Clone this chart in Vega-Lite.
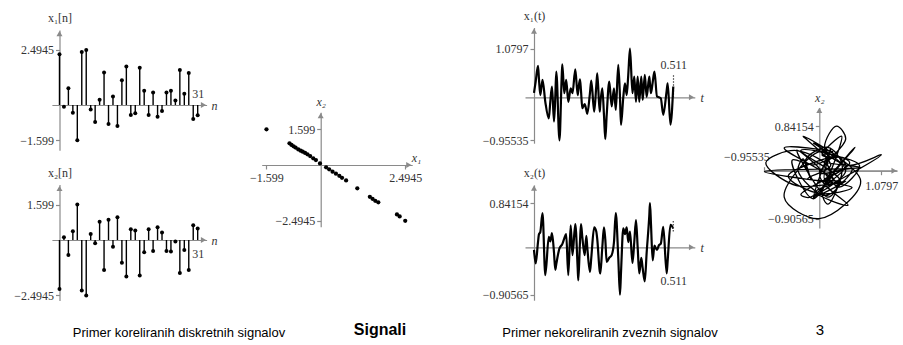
{
"$schema": "https://vega.github.io/schema/vega-lite/v6.json",
"width": 903, "height": 345, "autosize": "none", "padding": 0, "background": "white",
"config": {"view": {"stroke": null},
 "axis": {"grid": false, "domainColor": "#8a8a8a", "domainWidth": 1.2, "tickColor": "#8a8a8a", "tickWidth": 1.2, "tickSize": 4,
  "labelColor": "#333333", "labelFont": "Liberation Serif", "labelFontSize": 12, "labelFlush": false, "labelOverlap": false,
  "titleFont": "Liberation Serif", "titleFontSize": 12, "titleFontWeight": "normal", "titleColor": "#333333", "titleAngle": 0,
  "titleAlign": "center", "titleBaseline": "middle", "format": ".5~g"}},
"datasets": {
 "one": [{"k": 1}],
 "dt": [
  {"n":0,"x1":2.30,"x2":-2.21},{"n":1,"x1":-0.08,"x2":0.12},{"n":2,"x1":0.76,"x2":-0.67},{"n":3,"x1":-0.35,"x2":0.40},
  {"n":4,"x1":-1.599,"x2":1.599},{"n":5,"x1":2.40,"x2":-2.27},{"n":6,"x1":2.4945,"x2":-2.4945},{"n":7,"x1":-0.20,"x2":0.27},
  {"n":8,"x1":-0.77,"x2":-0.15},{"n":9,"x1":0.24,"x2":0.82},{"n":10,"x1":1.47,"x2":-1.35},{"n":11,"x1":-0.86,"x2":0.91},
  {"n":12,"x1":0.38,"x2":-0.30},{"n":13,"x1":-0.95,"x2":1.02},{"n":14,"x1":1.12,"x2":-1.02},{"n":15,"x1":1.74,"x2":-1.64},
  {"n":16,"x1":-0.45,"x2":0.49},{"n":17,"x1":-0.38,"x2":0.43},{"n":18,"x1":1.69,"x2":-1.60},{"n":19,"x1":0.65,"x2":-0.55},
  {"n":20,"x1":-0.45,"x2":0.48},{"n":21,"x1":0.57,"x2":-0.49},{"n":22,"x1":-0.53,"x2":0.57},{"n":23,"x1":-0.27,"x2":0.34},
  {"n":24,"x1":0.57,"x2":-0.49},{"n":25,"x1":0.64,"x2":-0.52},{"n":26,"x1":0.20,"x2":-0.07},{"n":27,"x1":1.59,"x2":-1.49},
  {"n":28,"x1":0.51,"x2":-0.45},{"n":29,"x1":1.45,"x2":-1.35},{"n":30,"x1":-0.64,"x2":0.67},{"n":31,"x1":-0.47,"x2":0.52}],
 "sc": [
  {"s1":-1.599,"s2":1.599},{"s1":-0.92,"s2":0.97},{"s1":-0.86,"s2":0.90},{"s1":-0.80,"s2":0.84},{"s1":-0.74,"s2":0.78},
  {"s1":-0.66,"s2":0.70},{"s1":-0.59,"s2":0.64},{"s1":-0.53,"s2":0.60},{"s1":-0.46,"s2":0.54},{"s1":-0.39,"s2":0.48},
  {"s1":-0.31,"s2":0.40},{"s1":-0.22,"s2":0.30},{"s1":-0.14,"s2":0.22},{"s1":-0.02,"s2":0.07},{"s1":0.16,"s2":-0.10},
  {"s1":0.25,"s2":-0.19},{"s1":0.35,"s2":-0.30},{"s1":0.45,"s2":-0.39},{"s1":0.55,"s2":-0.48},{"s1":0.63,"s2":-0.57},
  {"s1":0.75,"s2":-0.69},{"s1":1.08,"s2":-1.04},{"s1":1.45,"s2":-1.42},{"s1":1.53,"s2":-1.51},{"s1":1.61,"s2":-1.60},
  {"s1":1.70,"s2":-1.67},{"s1":2.25,"s2":-2.21},{"s1":2.33,"s2":-2.30},{"s1":2.4945,"s2":-2.4945}],
 "ct": [
  {"t":0,"x1":0.10,"x2":-0.05},{"t":0.0062,"x1":0.35,"x2":-0.31},{"t":0.0147,"x1":0.70,"x2":0.10},{"t":0.0183,"x1":0.40,"x2":0.25},
  {"t":0.0231,"x1":0.05,"x2":0.29},{"t":0.0312,"x1":0.39,"x2":0.65},{"t":0.0415,"x1":-0.10,"x2":-0.53},{"t":0.0543,"x1":-0.47,"x2":0.20},
  {"t":0.0598,"x1":-0.10,"x2":0.11},{"t":0.0660,"x1":0.24,"x2":0.27},{"t":0.0734,"x1":-0.54,"x2":-0.10},{"t":0.0781,"x1":0.00,"x2":-0.43},
  {"t":0.0818,"x1":0.57,"x2":-0.32},{"t":0.0935,"x1":-0.955,"x2":-0.02},{"t":0.1016,"x1":0.45,"x2":0.04},{"t":0.1038,"x1":0.73,"x2":0.06},
  {"t":0.1112,"x1":0.09,"x2":0.17},{"t":0.1181,"x1":0.39,"x2":0.25},{"t":0.1258,"x1":-0.10,"x2":-0.53},{"t":0.1346,"x1":0.20,"x2":0.42},
  {"t":0.1412,"x1":0.09,"x2":-0.15},{"t":0.1515,"x1":0.62,"x2":0.44},{"t":0.1603,"x1":0.05,"x2":-0.40},{"t":0.1625,"x1":0.15,"x2":-0.63},
  {"t":0.1687,"x1":0.40,"x2":0.10},{"t":0.1724,"x1":0.15,"x2":0.44},{"t":0.1772,"x1":-0.24,"x2":0.20},{"t":0.1860,"x1":-0.15,"x2":-0.15},
  {"t":0.1919,"x1":-0.28,"x2":0.22},{"t":0.1955,"x1":-0.37,"x2":0.00},{"t":0.2054,"x1":0.10,"x2":-0.47},{"t":0.2102,"x1":0.37,"x2":-0.20},
  {"t":0.2208,"x1":-0.32,"x2":0.38},{"t":0.2285,"x1":0.25,"x2":0.30},{"t":0.2322,"x1":0.53,"x2":0.15},{"t":0.2410,"x1":-0.32,"x2":-0.45},
  {"t":0.2432,"x1":-0.15,"x2":-0.50},{"t":0.2506,"x1":0.20,"x2":0.00},{"t":0.2568,"x1":-0.40,"x2":0.38},{"t":0.2616,"x1":-0.93,"x2":0.15},
  {"t":0.2667,"x1":-0.40,"x2":-0.28},{"t":0.2762,"x1":0.35,"x2":-0.20},{"t":0.2850,"x1":-0.20,"x2":-0.15},{"t":0.2935,"x1":0.20,"x2":0.10},
  {"t":0.3001,"x1":-0.28,"x2":0.65},{"t":0.3092,"x1":0.72,"x2":-0.20},{"t":0.3155,"x1":0.00,"x2":-0.90565},{"t":0.3191,"x1":-0.61,"x2":-0.50},
  {"t":0.3276,"x1":0.00,"x2":0.36},{"t":0.3338,"x1":0.31,"x2":0.25},{"t":0.3401,"x1":0.05,"x2":0.38},{"t":0.3459,"x1":0.50,"x2":0.10},
  {"t":0.3522,"x1":1.0797,"x2":0.30},{"t":0.3613,"x1":0.09,"x2":-0.30},{"t":0.3679,"x1":0.46,"x2":0.10},{"t":0.3742,"x1":-0.10,"x2":0.52},
  {"t":0.3804,"x1":0.46,"x2":0.00},{"t":0.3863,"x1":-0.10,"x2":-0.50},{"t":0.3936,"x1":0.46,"x2":-0.20},{"t":0.3988,"x1":-0.06,"x2":-0.40},
  {"t":0.4065,"x1":0.50,"x2":-0.65},{"t":0.4134,"x1":0.01,"x2":-0.10},{"t":0.4230,"x1":0.46,"x2":0.60},{"t":0.4255,"x1":0.30,"x2":0.84154},
  {"t":0.4292,"x1":0.09,"x2":0.45},{"t":0.4354,"x1":0.33,"x2":-0.25},{"t":0.4420,"x1":0.57,"x2":0.03},{"t":0.4512,"x1":0.02,"x2":-0.05},
  {"t":0.4585,"x1":0.00,"x2":0.04},{"t":0.4652,"x1":-0.02,"x2":0.07},{"t":0.4743,"x1":-0.39,"x2":0.39},{"t":0.4868,"x1":0.15,"x2":-0.50},
  {"t":0.4905,"x1":0.31,"x2":-0.25},{"t":0.5007,"x1":-0.61,"x2":0.43},{"t":0.511,"x1":0.24,"x2":0.36}],
 "cap": [
  {"caption":"Primer koreliranih diskretnih signalov","slot":1,"kind":"sub"},
  {"caption":"Signali","slot":2,"kind":"title"},
  {"caption":"Primer nekoreliranih zveznih signalov","slot":3,"kind":"sub"},
  {"caption":"3","slot":4,"kind":"page"}]
},
"resolve": {"scale": {"x": "independent", "y": "independent"}, "axis": {"x": "independent", "y": "independent"}},
"layer": [
 {"data": {"name": "dt"}, "mark": {"type": "rule", "color": "black", "strokeWidth": 1.4},
  "encoding": {
   "x": {"field": "n", "type": "quantitative", "scale": {"domain": [-1.7, 33], "range": [51.9, 206.6]},
     "axis": {"orient": "top", "offset": -105, "values": [31], "format": "d", "tickSize": 0, "labelPadding": 5, "title": "n", "titleX": 211, "titleY": 0, "titleAlign": "left", "titleFontStyle": "italic"}},
   "y": {"field": "x1", "type": "quantitative", "scale": {"domain": [-2.05, 3.4], "range": [150.2, 30.0]},
     "axis": {"orient": "left", "offset": -59.5, "values": [2.4945, -1.599], "title": "x₁[n]", "titleX": 0, "titleY": 17}},
   "y2": {"datum": 0}}},
 {"data": {"name": "dt"}, "mark": {"type": "point", "filled": true, "color": "black", "size": 16, "opacity": 1},
  "encoding": {
   "x": {"field": "n", "type": "quantitative", "scale": {"domain": [-1.7, 33], "range": [51.9, 206.6]}, "axis": null},
   "y": {"field": "x1", "type": "quantitative", "scale": {"domain": [-2.05, 3.4], "range": [150.2, 30.0]}, "axis": null}}},
 {"data": {"name": "one"}, "mark": {"type": "point", "shape": "triangle-up", "filled": true, "color": "#8a8a8a", "size": 36, "opacity": 1},
  "encoding": {
   "x": {"datum": 0, "type": "quantitative", "scale": {"domain": [-1.7, 33], "range": [51.9, 206.6]}, "axis": null},
   "y": {"datum": 3.24, "type": "quantitative", "scale": {"domain": [-2.05, 3.4], "range": [150.2, 30.0]}, "axis": null}}},
 {"data": {"name": "one"}, "mark": {"type": "point", "shape": "triangle-right", "filled": true, "color": "#8a8a8a", "size": 36, "opacity": 1},
  "encoding": {
   "x": {"datum": 32.3, "type": "quantitative", "scale": {"domain": [-1.7, 33], "range": [51.9, 206.6]}, "axis": null},
   "y": {"datum": 0, "type": "quantitative", "scale": {"domain": [-2.05, 3.4], "range": [150.2, 30.0]}, "axis": null}}},

 {"data": {"name": "dt"}, "mark": {"type": "rule", "color": "black", "strokeWidth": 1.4},
  "encoding": {
   "x": {"field": "n", "type": "quantitative", "scale": {"domain": [-1.7, 33], "range": [51.9, 206.6]},
     "axis": {"orient": "bottom", "offset": -105, "values": [31], "format": "d", "tickSize": 0, "labelPadding": 8, "title": "n", "titleX": 211, "titleY": 0, "titleAlign": "left", "titleFontStyle": "italic"}},
   "y": {"field": "x2", "type": "quantitative", "scale": {"domain": [-2.72, 2.5], "range": [300.4, 184.5]},
     "axis": {"orient": "left", "offset": -59.5, "values": [1.599, -2.4945], "title": "x₂[n]", "titleX": 0, "titleY": 172}},
   "y2": {"datum": 0}}},
 {"data": {"name": "dt"}, "mark": {"type": "point", "filled": true, "color": "black", "size": 16, "opacity": 1},
  "encoding": {
   "x": {"field": "n", "type": "quantitative", "scale": {"domain": [-1.7, 33], "range": [51.9, 206.6]}, "axis": null},
   "y": {"field": "x2", "type": "quantitative", "scale": {"domain": [-2.72, 2.5], "range": [300.4, 184.5]}, "axis": null}}},
 {"data": {"name": "one"}, "mark": {"type": "point", "shape": "triangle-up", "filled": true, "color": "#8a8a8a", "size": 36, "opacity": 1},
  "encoding": {
   "x": {"datum": 0, "type": "quantitative", "scale": {"domain": [-1.7, 33], "range": [51.9, 206.6]}, "axis": null},
   "y": {"datum": 2.32, "type": "quantitative", "scale": {"domain": [-2.72, 2.5], "range": [300.4, 184.5]}, "axis": null}}},
 {"data": {"name": "one"}, "mark": {"type": "point", "shape": "triangle-right", "filled": true, "color": "#8a8a8a", "size": 36, "opacity": 1},
  "encoding": {
   "x": {"datum": 32.3, "type": "quantitative", "scale": {"domain": [-1.7, 33], "range": [51.9, 206.6]}, "axis": null},
   "y": {"datum": 0, "type": "quantitative", "scale": {"domain": [-2.72, 2.5], "range": [300.4, 184.5]}, "axis": null}}},

 {"data": {"name": "sc"}, "mark": {"type": "point", "filled": true, "color": "black", "size": 18, "opacity": 1},
  "encoding": {
   "x": {"field": "s1", "type": "quantitative", "scale": {"domain": [-1.74, 2.7], "range": [261.7, 412.2]},
     "axis": {"orient": "bottom", "offset": -180, "values": [-1.599, 2.4945], "labelPadding": 3, "title": "x₁", "titleX": 416, "titleY": -8, "titleFontStyle": "italic"}},
   "y": {"field": "s2", "type": "quantitative", "scale": {"domain": [-2.76, 2.36], "range": [226.7, 112.3]},
     "axis": {"orient": "left", "offset": -320.7, "values": [1.599, -2.4945], "title": "x₂", "titleX": 0, "titleY": 101, "titleFontStyle": "italic"}}}},
 {"data": {"name": "one"}, "mark": {"type": "point", "shape": "triangle-up", "filled": true, "color": "#8a8a8a", "size": 36, "opacity": 1},
  "encoding": {
   "x": {"datum": 0, "type": "quantitative", "scale": {"domain": [-1.74, 2.7], "range": [261.7, 412.2]}, "axis": null},
   "y": {"datum": 2.21, "type": "quantitative", "scale": {"domain": [-2.76, 2.36], "range": [226.7, 112.3]}, "axis": null}}},
 {"data": {"name": "one"}, "mark": {"type": "point", "shape": "triangle-right", "filled": true, "color": "#8a8a8a", "size": 36, "opacity": 1},
  "encoding": {
   "x": {"datum": 2.6, "type": "quantitative", "scale": {"domain": [-1.74, 2.7], "range": [261.7, 412.2]}, "axis": null},
   "y": {"datum": 0, "type": "quantitative", "scale": {"domain": [-2.76, 2.36], "range": [226.7, 112.3]}, "axis": null}}},

 {"data": {"name": "ct"}, "mark": {"type": "line", "color": "black", "strokeWidth": 2.2, "interpolate": "monotone"},
  "encoding": {
   "x": {"field": "t", "type": "quantitative", "scale": {"domain": [-0.033, 0.59], "range": [525.0, 694.8]},
     "axis": {"orient": "top", "offset": -97.3, "values": [0.511], "tickSize": 23, "tickDash": [1.5, 1.5], "tickColor": "#444444", "labelPadding": 3, "title": "t", "titleX": 700, "titleY": 0, "titleAlign": "left", "titleFontStyle": "italic"}},
   "y": {"field": "x1", "type": "quantitative", "scale": {"domain": [-1.02, 1.55], "range": [143.2, 27.55]},
     "axis": {"orient": "left", "offset": -534, "values": [1.0797, -0.95535], "title": "x₁(t)", "titleX": 0, "titleY": 15}}}},
 {"data": {"name": "one"}, "mark": {"type": "point", "shape": "triangle-up", "filled": true, "color": "#8a8a8a", "size": 36, "opacity": 1},
  "encoding": {
   "x": {"datum": 0, "type": "quantitative", "scale": {"domain": [-0.033, 0.59], "range": [525.0, 694.8]}, "axis": null},
   "y": {"datum": 1.47, "type": "quantitative", "scale": {"domain": [-1.02, 1.55], "range": [143.2, 27.55]}, "axis": null}}},
 {"data": {"name": "one"}, "mark": {"type": "point", "shape": "triangle-right", "filled": true, "color": "#8a8a8a", "size": 36, "opacity": 1},
  "encoding": {
   "x": {"datum": 0.578, "type": "quantitative", "scale": {"domain": [-0.033, 0.59], "range": [525.0, 694.8]}, "axis": null},
   "y": {"datum": 0, "type": "quantitative", "scale": {"domain": [-1.02, 1.55], "range": [143.2, 27.55]}, "axis": null}}},

 {"data": {"name": "ct"}, "mark": {"type": "line", "color": "black", "strokeWidth": 2.2, "interpolate": "monotone"},
  "encoding": {
   "x": {"field": "t", "type": "quantitative", "scale": {"domain": [-0.033, 0.59], "range": [525.0, 694.8]},
     "axis": {"orient": "bottom", "offset": -97.7, "values": [0.511], "tickSize": 0, "labelPadding": 28, "title": "t", "titleX": 700, "titleY": 0, "titleAlign": "left", "titleFontStyle": "italic"}},
   "y": {"field": "x2", "type": "quantitative", "scale": {"domain": [-1.01, 1.19], "range": [300.2, 184.9]},
     "axis": {"orient": "left", "offset": -534, "values": [0.84154, -0.90565], "title": "x₂(t)", "titleX": 0, "titleY": 172}}}},
 {"data": {"name": "one"}, "mark": {"type": "rule", "color": "#444444", "strokeWidth": 1.2, "strokeDash": [1.5, 1.5]},
  "encoding": {
   "x": {"datum": 0.511, "type": "quantitative", "scale": {"domain": [-0.033, 0.59], "range": [525.0, 694.8]}, "axis": null},
   "y": {"datum": 0.3, "type": "quantitative", "scale": {"domain": [-1.01, 1.19], "range": [300.2, 184.9]}, "axis": null},
   "y2": {"datum": 0.5}}},
 {"data": {"name": "one"}, "mark": {"type": "point", "shape": "triangle-up", "filled": true, "color": "#8a8a8a", "size": 36, "opacity": 1},
  "encoding": {
   "x": {"datum": 0, "type": "quantitative", "scale": {"domain": [-0.033, 0.59], "range": [525.0, 694.8]}, "axis": null},
   "y": {"datum": 1.13, "type": "quantitative", "scale": {"domain": [-1.01, 1.19], "range": [300.2, 184.9]}, "axis": null}}},
 {"data": {"name": "one"}, "mark": {"type": "point", "shape": "triangle-right", "filled": true, "color": "#8a8a8a", "size": 36, "opacity": 1},
  "encoding": {
   "x": {"datum": 0.578, "type": "quantitative", "scale": {"domain": [-0.033, 0.59], "range": [525.0, 694.8]}, "axis": null},
   "y": {"datum": 0, "type": "quantitative", "scale": {"domain": [-1.01, 1.19], "range": [300.2, 184.9]}, "axis": null}}},

 {"data": {"name": "ct"}, "mark": {"type": "line", "color": "black", "strokeWidth": 1.3, "interpolate": "catmull-rom"},
  "encoding": {
   "x": {"field": "x1", "type": "quantitative", "scale": {"domain": [-0.97, 1.35], "range": [763.5, 896.9]},
     "axis": {"orient": "bottom", "offset": -174.3, "values": [1.0797], "labelPadding": 6, "title": null}},
   "y": {"field": "x2", "type": "quantitative", "scale": {"domain": [-1.08, 1.19], "range": [227.9, 107.6]},
     "axis": {"orient": "left", "offset": -819.3, "values": [0.84154, -0.90565], "title": "x₂", "titleX": 0, "titleY": 97, "titleFontStyle": "italic"}},
   "order": {"field": "t", "type": "quantitative"}}},
 {"data": {"name": "one"}, "mark": {"type": "point", "shape": "triangle-up", "filled": true, "color": "#8a8a8a", "size": 36, "opacity": 1},
  "encoding": {
   "x": {"datum": 0, "type": "quantitative", "scale": {"domain": [-0.97, 1.35], "range": [763.5, 896.9]},
     "axis": {"orient": "top", "offset": -170.7, "values": [-0.95535], "labelAlign": "right", "labelOffset": 5, "labelPadding": 3, "title": null}},
   "y": {"datum": 1.136, "type": "quantitative", "scale": {"domain": [-1.08, 1.19], "range": [227.9, 107.6]}, "axis": null}}},
 {"data": {"name": "one"}, "mark": {"type": "point", "shape": "triangle-right", "filled": true, "color": "#8a8a8a", "size": 36, "opacity": 1},
  "encoding": {
   "x": {"datum": 1.30, "type": "quantitative", "scale": {"domain": [-0.97, 1.35], "range": [763.5, 896.9]}, "axis": null},
   "y": {"datum": 0, "type": "quantitative", "scale": {"domain": [-1.08, 1.19], "range": [227.9, 107.6]}, "axis": null}}},

 {"data": {"name": "cap"}, "transform": [{"filter": "datum.kind === 'sub'"}],
  "mark": {"type": "text", "font": "Liberation Sans", "fontSize": 13, "color": "black", "align": "center", "baseline": "middle"},
  "encoding": {
   "text": {"field": "caption"},
   "x": {"field": "slot", "type": "quantitative", "scale": {"domain": [1, 2, 3, 4], "range": [179, 380, 610, 820]}, "axis": null},
   "y": {"datum": 0, "type": "quantitative", "scale": {"domain": [-1, 1], "range": [345, 321]}, "axis": null}}},
 {"data": {"name": "cap"}, "transform": [{"filter": "datum.kind === 'title'"}],
  "mark": {"type": "text", "font": "Liberation Sans", "fontSize": 16, "fontWeight": "bold", "color": "black", "align": "center", "baseline": "middle"},
  "encoding": {
   "text": {"field": "caption"},
   "x": {"field": "slot", "type": "quantitative", "scale": {"domain": [1, 2, 3, 4], "range": [179, 380, 610, 820]}, "axis": null},
   "y": {"datum": 0.25, "type": "quantitative", "scale": {"domain": [-1, 1], "range": [345, 321]}, "axis": null}}},
 {"data": {"name": "cap"}, "transform": [{"filter": "datum.kind === 'page'"}],
  "mark": {"type": "text", "font": "Liberation Sans", "fontSize": 15, "color": "black", "align": "center", "baseline": "middle"},
  "encoding": {
   "text": {"field": "caption"},
   "x": {"field": "slot", "type": "quantitative", "scale": {"domain": [1, 2, 3, 4], "range": [179, 380, 610, 820]}, "axis": null},
   "y": {"datum": 0.25, "type": "quantitative", "scale": {"domain": [-1, 1], "range": [345, 321]}, "axis": null}}}
]
}
